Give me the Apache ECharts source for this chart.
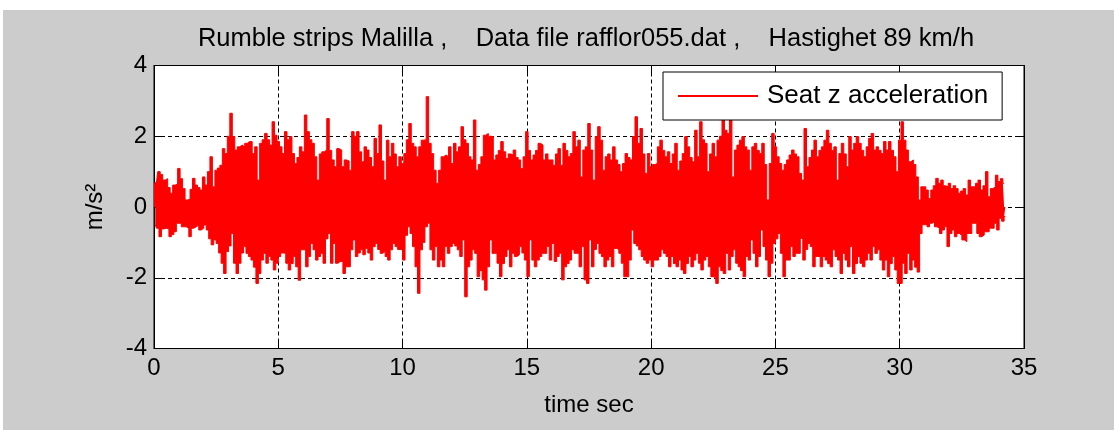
<!DOCTYPE html>
<html>
<head>
<meta charset="utf-8">
<script src="https://cdn.jsdelivr.net/npm/echarts@6/dist/echarts.min.js"></script>
<style>
  html, body { margin: 0; padding: 0; background: #fff; }
  #chart { position: absolute; left: 3px; top: 10px; width: 1111px; height: 420px; background: #cccccc; }
</style>
</head>
<body>
<div id="chart"></div>
<script>
const timeStep = 0.1
const xTicks = [0, 5, 10, 15, 20, 25, 30, 35]
const yTicks = [-4, -2, 0, 2, 4]

// upper peaks (m/s2), one row per second
const seatUpper = [
  0.67, 0.7, 1.0, 0.92, 0.76, 0.8, 0.55, 0.39, 0.62, 0.65,
  1.09, 0.8, 0.52, 0.2, 0.22, 0.5, 0.81, 0.62, 0.55, 0.48,
  0.85, 0.62, 1.0, 1.42, 0.57, 1.04, 1.1, 1.18, 1.65, 1.51,
  2.0, 2.65, 1.99, 1.61, 1.7, 1.75, 1.7, 1.8, 1.85, 1.85,
  1.51, 1.7, 0.76, 1.8, 1.9, 2.08, 1.9, 1.75, 2.41, 2.03,
  1.85, 1.7, 1.51, 2.13, 1.9, 1.99, 1.51, 1.23, 1.4, 1.7,
  1.56, 2.6, 2.13, 1.9, 1.8, 1.42, 0.76, 1.5, 1.56, 1.61,
  2.5, 1.6, 1.33, 1.14, 1.65, 1.61, 1.14, 1.33, 1.3, 1.04,
  2.13, 2.0, 2.13, 1.56, 1.28, 1.7, 1.61, 1.4, 1.14, 1.94,
  1.51, 2.32, 1.3, 0.76, 1.89, 1.42, 1.8, 1.5, 1.14, 1.42,
  1.23, 1.51, 1.9, 2.36, 1.8, 1.7, 1.42, 1.7, 1.89, 1.9,
  3.12, 1.8, 1.51, 1.04, 0.67, 1.04, 1.42, 1.47, 1.42, 1.7,
  1.23, 1.8, 1.56, 1.7, 2.27, 1.9, 1.8, 1.42, 1.33, 2.46,
  1.04, 1.2, 1.42, 2.03, 2.08, 2.0, 1.99, 1.33, 1.47, 1.6,
  1.85, 1.56, 1.37, 1.5, 1.47, 1.61, 1.4, 1.33, 1.09, 1.42,
  2.13, 1.6, 1.33, 1.47, 1.6, 1.8, 1.75, 1.33, 1.5, 1.33,
  1.33, 1.18, 1.5, 1.65, 1.18, 1.8, 1.6, 1.42, 1.51, 2.13,
  1.7, 1.89, 0.85, 1.61, 1.7, 2.36, 1.61, 0.76, 1.99, 2.27,
  1.89, 1.04, 1.42, 1.5, 1.33, 1.7, 1.33, 1.2, 1.0, 1.23,
  1.51, 1.4, 1.33, 1.99, 2.55, 1.8, 2.22, 1.5, 0.95, 1.51,
  1.14, 1.2, 1.23, 1.7, 1.89, 1.6, 1.42, 1.56, 1.23, 1.5,
  1.8, 1.04, 1.3, 1.51, 1.99, 1.7, 1.4, 1.28, 2.17, 1.42,
  2.41, 1.9, 1.8, 1.0, 1.5, 1.8, 1.42, 1.89, 2.0, 2.46,
  2.17, 2.08, 2.46, 0.85, 1.61, 1.75, 1.89, 1.99, 1.7, 1.61,
  1.04, 1.7, 1.8, 1.6, 1.51, 1.8, 1.2, 0.2, 1.23, 2.08,
  1.7, 1.42, 1.23, 1.04, 1.2, 1.33, 1.47, 1.61, 1.5, 1.42,
  0.95, 0.76, 2.22, 1.14, 1.4, 1.61, 1.89, 1.42, 1.6, 1.7,
  1.89, 2.17, 1.8, 1.6, 1.7, 0.76, 1.51, 1.8, 1.5, 1.14,
  1.99, 1.61, 1.8, 1.99, 1.8, 1.6, 1.42, 1.7, 1.94, 2.08,
  1.61, 1.7, 1.6, 1.51, 1.85, 1.61, 1.85, 1.6, 1.42, 1.0,
  1.89, 2.41, 1.89, 1.61, 1.28, 1.33, 1.2, 0.85, 0.2, 0.57,
  0.57, 0.48, 0.24, 0.48, 0.6, 0.81, 0.67, 0.76, 0.6, 0.57,
  0.67, 0.52, 0.6, 0.52, 0.39, 0.45, 0.52, 0.34, 0.76, 0.57,
  0.57, 0.67, 0.76, 0.48, 0.6, 1.0, 0.29, 0.52, 0.57, 0.9,
  0.72, 0.8, 0.67
]

// lower peaks (m/s2), taken half a step later
const seatLower = [
  -0.5, -0.6, -0.84, -0.62, -0.6, -0.62, -0.84, -0.78, -0.7, -0.46,
  -0.46, -0.56, -0.56, -0.6, -0.84, -0.6, -0.56, -0.51, -0.65, -0.6,
  -0.51, -0.65, -0.9, -1.07, -0.93, -1.03, -1.3, -1.59, -1.88, -1.26,
  -1.1, -0.75, -1.59, -1.88, -1.59, -1.3, -1.12, -1.31, -1.4, -1.5,
  -1.7, -2.16, -1.88, -1.5, -1.31, -1.59, -1.4, -1.5, -1.78, -1.59,
  -1.4, -1.3, -1.31, -1.59, -1.78, -1.6, -1.4, -1.69, -2.07, -1.21,
  -1.21, -1.69, -1.4, -1.03, -1.21, -1.5, -1.4, -1.31, -1.59, -0.9,
  -0.75, -1.59, -1.03, -1.59, -1.54, -1.54, -1.88, -1.69, -1.69, -1.21,
  -0.93, -1.4, -1.3, -1.21, -1.35, -1.17, -1.3, -1.5, -1.12, -1.03,
  -1.2, -1.31, -1.26, -1.4, -1.5, -1.21, -1.03, -1.12, -1.2, -1.21,
  -1.5, -0.8, -0.56, -0.75, -1.12, -1.69, -2.44, -1.21, -1.0, -0.56,
  -0.46, -1.21, -1.5, -1.12, -1.69, -1.5, -1.69, -1.12, -1.31, -1.12,
  -1.03, -1.1, -1.21, -1.4, -0.93, -2.54, -1.69, -1.5, -1.21, -1.31,
  -1.97, -1.8, -2.06, -2.35, -1.69, -0.93, -1.31, -1.31, -1.59, -1.97,
  -1.6, -1.4, -1.21, -1.69, -1.31, -1.4, -1.35, -1.12, -1.3, -1.5,
  -1.97, -0.93, -1.5, -1.69, -1.5, -1.4, -1.31, -1.31, -1.12, -1.5,
  -1.03, -1.54, -1.4, -1.31, -2.06, -1.69, -1.6, -1.5, -1.21, -1.31,
  -1.31, -1.69, -1.12, -2.06, -2.16, -0.93, -1.69, -1.2, -1.03, -1.31,
  -1.4, -1.69, -1.5, -1.4, -1.69, -1.17, -1.2, -1.31, -1.59, -1.97,
  -1.97, -1.5, -0.65, -1.03, -1.1, -1.21, -1.4, -1.5, -1.59, -1.5,
  -1.69, -1.5, -1.5, -1.4, -1.21, -1.31, -1.4, -1.69, -1.4, -1.6,
  -1.69, -1.5, -1.78, -1.88, -1.6, -1.4, -1.69, -1.5, -1.31, -1.59,
  -1.78, -1.5, -1.4, -1.69, -1.97, -2.0, -2.16, -1.69, -1.8, -1.88,
  -1.31, -1.78, -1.4, -1.21, -1.59, -1.69, -1.8, -1.97, -1.4, -1.5,
  -0.93, -1.31, -1.69, -1.4, -0.65, -1.12, -1.5, -1.97, -1.59, -1.03,
  -0.9, -0.75, -1.31, -1.97, -1.5, -1.5, -1.12, -1.4, -1.31, -1.31,
  -0.89, -1.5, -1.2, -1.03, -1.12, -1.69, -1.4, -1.4, -1.69, -1.4,
  -1.5, -1.6, -1.69, -1.21, -1.4, -1.5, -1.88, -1.31, -1.5, -1.69,
  -1.12, -1.88, -1.6, -1.4, -1.59, -1.69, -1.5, -1.31, -1.5, -1.12,
  -1.31, -1.21, -1.5, -1.78, -1.5, -1.97, -1.6, -1.4, -1.78, -2.16,
  -2.16, -1.59, -1.88, -1.31, -1.78, -1.5, -1.7, -1.84, -0.75, -0.5,
  -0.5, -0.56, -0.46, -0.42, -0.56, -0.6, -0.75, -0.65, -0.56, -1.12,
  -0.75, -0.65, -0.84, -0.75, -0.8, -0.93, -0.98, -0.75, -0.75, -0.46,
  -0.46, -0.75, -0.84, -0.79, -0.7, -0.7, -0.6, -0.6, -0.46, -0.65,
  -0.32, -0.4, -0.27
]

const font = 'Liberation Sans, Arial, sans-serif'
const red = '#ff0000'

const upperPts = seatUpper.map((u, i) => [+(i * timeStep).toFixed(2), u])
const lowerPts = seatLower.map((l, i) => [+(i * timeStep + timeStep / 2).toFixed(3), l])

const chart = echarts.init(document.getElementById('chart'))

const axisCommon = {
  type: 'value',
  axisLine: { show: true, onZero: false, lineStyle: { color: '#000', width: 1 } },
  axisTick: { show: true, inside: true, length: 9, lineStyle: { color: '#000' } },
  axisLabel: { color: '#000', fontSize: 24, fontFamily: font },
}

// the band is drawn as two stepped areas, from the peaks to zero
const bandSeries = (pts) => ({
  name: 'Seat z acceleration',
  type: 'line',
  data: pts,
  step: 'middle',
  symbol: 'none',
  sampling: null,
  lineStyle: { color: red, width: 1 },
  itemStyle: { color: red },
  areaStyle: { color: red, opacity: 1, origin: 0 },
  silent: true,
})

chart.setOption({
  animation: false,
  title: {
    text: 'Rumble strips Malilla ,    Data file rafflor055.dat ,    Hastighet 89 km/h',
    left: 583,
    top: 16,
    padding: 0,
    textAlign: 'center',
    textStyle: { fontSize: 25.5, fontWeight: 'normal', color: '#000', fontFamily: font },
  },
  legend: {
    data: [{ name: 'Seat z acceleration', icon: 'rect' }],
    left: 660,
    top: 62,
    padding: [11, 14, 11, 15],
    itemWidth: 80,
    itemHeight: 2,
    backgroundColor: '#fff',
    borderColor: '#000',
    borderWidth: 1,
    borderRadius: 0,
    selectedMode: false,
    textStyle: { fontSize: 26, color: '#000', fontFamily: font, padding: [0, 0, 0, 4] },
  },
  grid: {
    left: 151, top: 55.5, width: 870, height: 283,
    show: true, backgroundColor: '#fff', borderColor: '#000', borderWidth: 1,
  },
  xAxis: [
    {
      ...axisCommon,
      position: 'bottom',
      min: xTicks[0], max: xTicks[xTicks.length - 1], interval: 5,
      axisLabel: { ...axisCommon.axisLabel, margin: 8 },
      splitLine: { show: true, lineStyle: { color: '#000', type: [4, 3], width: 1 } },
      name: 'time sec',
      nameLocation: 'middle',
      nameGap: 45,
      nameTextStyle: { fontSize: 24, color: '#000', fontFamily: font },
    },
    {
      ...axisCommon,
      position: 'top',
      min: xTicks[0], max: xTicks[xTicks.length - 1], interval: 5,
      axisLabel: { show: false },
      splitLine: { show: false },
    },
  ],
  yAxis: [
    {
      ...axisCommon,
      position: 'left',
      min: yTicks[0], max: yTicks[yTicks.length - 1], interval: 2,
      axisLabel: { ...axisCommon.axisLabel, margin: 7 },
      splitLine: { show: true, lineStyle: { color: '#000', type: [4, 3], width: 1 } },
      name: 'm/s²',
      nameLocation: 'middle',
      nameGap: 47,
      nameTextStyle: { fontSize: 24, color: '#000', fontFamily: font },
    },
    {
      ...axisCommon,
      position: 'right',
      min: yTicks[0], max: yTicks[yTicks.length - 1], interval: 2,
      axisLabel: { show: false },
      splitLine: { show: false },
    },
  ],
  series: [bandSeries(upperPts), bandSeries(lowerPts)],
})
</script>
</body>
</html>
